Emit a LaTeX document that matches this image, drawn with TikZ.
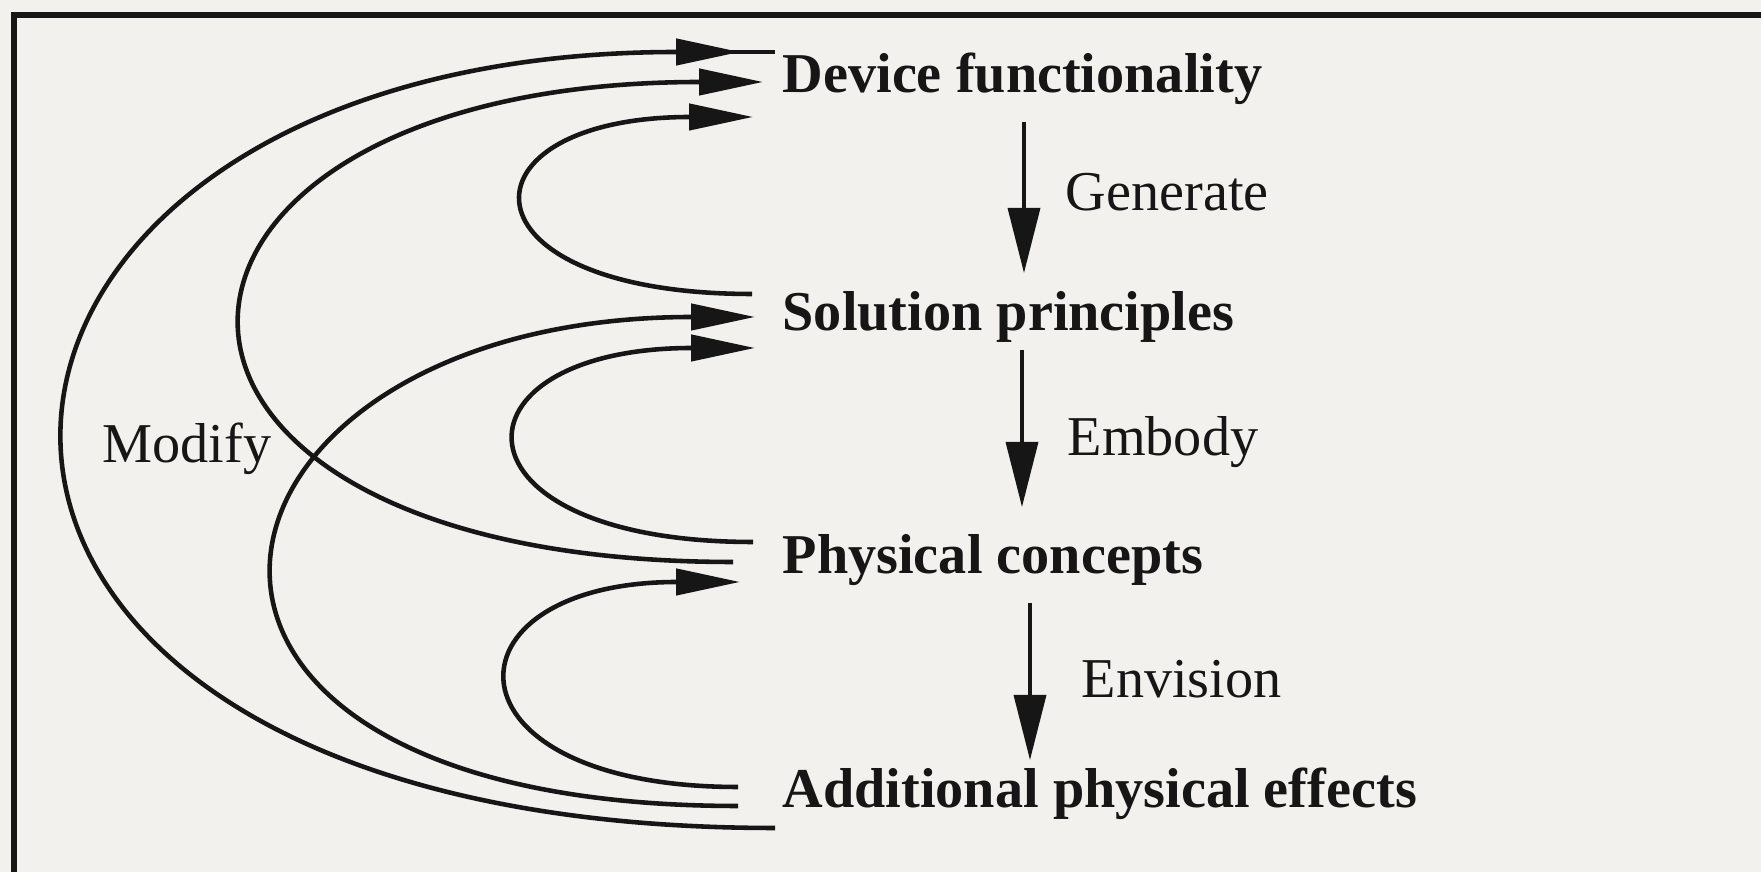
\documentclass[tikz,border=0pt]{standalone}
\usepackage{fontspec}
\setmainfont{Liberation Serif}
\usepackage{tikz}
\usetikzlibrary{arrows.meta}
\definecolor{paper}{HTML}{F3F1EE}
\definecolor{ink}{HTML}{161616}

\begin{document}
\begin{tikzpicture}[
  x=0.1mm, y=-0.1mm,
  item/.style={anchor=base west, inner sep=0pt, font=\fontsize{16}{19}\selectfont\bfseries, text=ink},
  verb/.style={anchor=base west, inner sep=0pt, font=\fontsize{16}{19}\selectfont, text=ink},
  feedback/.style={line width=1.3pt, draw=ink},
  fbtip/.style={-{Triangle[length=6.4mm, width=2.6mm]}},
  refine/.style={line width=1pt, draw=ink, -{Triangle[length=6.5mm, width=3.2mm]}},
  frame/.style={line width=1.5pt, draw=ink}
]

% Paper and frame
\fill[paper] (0,0) rectangle (1761,872);
\useasboundingbox (0,0) rectangle (1761,872);
\draw[frame] (14,872) -- (14,15) -- (1761,15);

% --- Stages ---
\node[item] (dev) at (782,93) {Device functionality};
\node[item] (sol) at (782,331) {Solution principles};
\node[item] (phy) at (782,574) {Physical concepts};
\node[item] (add) at (782,808) {Additional physical effects};

% --- Steps down the column ---
\coordinate (genTop) at (1024,122);
\coordinate (genTip) at (1024,273);
\draw[refine] (genTop) -- (genTip);
\node[verb] (gen) at (1065,211) {Generate};

\coordinate (embTop) at (1022,350);
\coordinate (embTip) at (1022,507);
\draw[refine] (embTop) -- (embTip);
\node[verb] (emb) at (1067,456) {Embody};

\coordinate (envTop) at (1030,603);
\coordinate (envTip) at (1030,760);
\draw[refine] (envTop) -- (envTip);
\node[verb] (env) at (1081,698) {Envision};

% --- Ports left of the stages ---
\coordinate (devA) at (740,52);
\coordinate (devAbar) at (705,52);
\coordinate (devAend) at (775,52);
\coordinate (devB) at (763,82);
\coordinate (devC) at (753,117);
\coordinate (solC) at (752,294);
\coordinate (solD) at (755,317);
\coordinate (solE) at (755,348);
\coordinate (phyE) at (753,542);
\coordinate (phyB) at (733,562);
\coordinate (phyF) at (740,582);
\coordinate (addF) at (738,787);
\coordinate (addD) at (738,806);
\coordinate (addA) at (775,828);

% --- Modify loops ---
\draw[feedback, fbtip] (addA) .. controls +(-973,0) and +(-865,0) .. (devA);
\draw[feedback] (devAbar) -- (devAend);
\draw[feedback, fbtip] (phyB) .. controls +(-670,0) and +(-670,0) .. (devB);
\draw[feedback, fbtip] (solC) .. controls +(-300,0) and +(-300,0) .. (devC);
\draw[feedback, fbtip] (addD) .. controls +(-670,0) and +(-580,0) .. (solD);
\draw[feedback, fbtip] (phyE) .. controls +(-312,0) and +(-312,0) .. (solE);
\draw[feedback, fbtip] (addF) .. controls +(-303,0) and +(-303,0) .. (phyF);

\node[verb] (mod) at (102,463) {Modify};

\end{tikzpicture}
\end{document}
